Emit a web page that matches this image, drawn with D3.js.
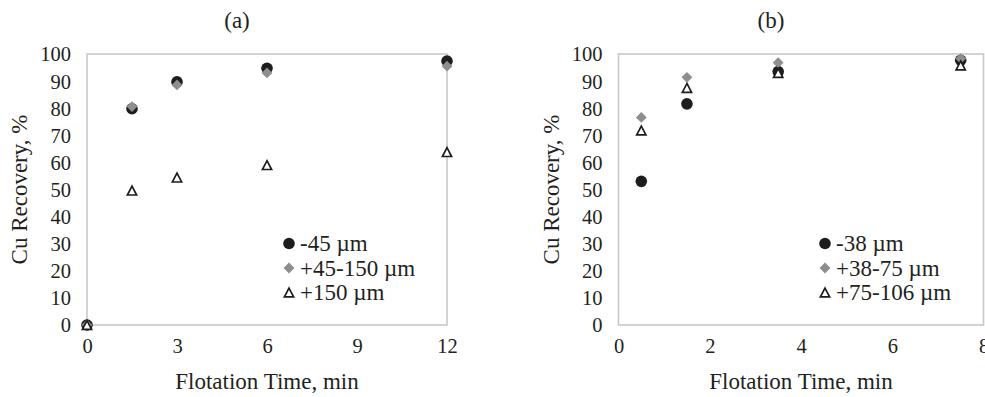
<!DOCTYPE html>
<html>
<head>
<meta charset="utf-8">
<script src="https://cdn.jsdelivr.net/npm/d3@7"></script>
<style>
  body { margin: 0; background: #fff; }
  svg { display: block; }
  svg text { font-family: "Liberation Serif", Tinos, "Times New Roman", Times, "DejaVu Serif", serif !important; fill: #231f20; }
</style>
</head>
<body>
<svg id="chart" width="985" height="397"></svg>
<script>
// Panel (a): flotation time (min) and Cu recovery (%) per size class
const timesA = [0, 1.5, 3, 6, 12];
const fineA = [0, 79.8, 89.7, 94.7, 97.4];
const midA = [0, 80.6, 88.6, 93.0, 95.5];
const coarseA = [0, 49.6, 54.4, 59.0, 63.8];
const namesA = ["-45 µm", "+45-150 µm", "+150 µm"];
const xTicksA = [0, 3, 6, 9, 12];

// Panel (b)
const timesB = [0.5, 1.5, 3.5, 7.5];
const fineB = [53.0, 81.6, 93.5, 97.7];
const midB = [76.6, 91.4, 96.8, 98.3];
const coarseB = [71.8, 87.5, 93.0, 95.8];
const namesB = ["-38 µm", "+38-75 µm", "+75-106 µm"];
const xTicksB = [0, 2, 4, 6, 8];

const yTicks = [0, 10, 20, 30, 40, 50, 60, 70, 80, 90, 100];
const titles = ["(a)", "(b)"];
const xTitle = "Flotation Time, min";
const yTitle = "Cu Recovery, %";

const serif = '"Liberation Serif", Tinos, "Times New Roman", Times, "DejaVu Serif", serif';
const svg = d3.select("#chart").attr("font-family", serif);

const panels = [
  { title: titles[0], x0: 87, x1: 447, xMax: 12, xTicks: xTicksA, times: timesA,
    series: [fineA, midA, coarseA], names: namesA, legendX: 289, yTitleX: 27 },
  { title: titles[1], x0: 618.5, x1: 983.5, xMax: 8, xTicks: xTicksB, times: timesB,
    series: [fineB, midB, coarseB], names: namesB, legendX: 825, yTitleX: 559 }
];

const plotTop = 54, plotBottom = 325;

// marker drawers: filled circle, grey diamond, open triangle
function drawMarker(g, kind, cx, cy) {
  if (kind === 0) {
    g.append("circle").attr("cx", cx).attr("cy", cy).attr("r", 5.8).attr("fill", "#1e1c1d");
  } else if (kind === 1) {
    const s = 5.4;
    g.append("path")
      .attr("d", `M${cx},${cy - s}L${cx + s},${cy}L${cx},${cy + s}L${cx - s},${cy}Z`)
      .attr("fill", "#8e8e8e");
  } else {
    const w = 4.6, h = 4.4;
    g.append("path")
      .attr("d", `M${cx},${cy - h}L${cx + w},${cy + h}L${cx - w},${cy + h}Z`)
      .attr("fill", "#fff").attr("stroke", "#1e1c1d").attr("stroke-width", 1.7)
      .attr("stroke-linejoin", "miter");
  }
}

panels.forEach(p => {
  const x = d3.scaleLinear().domain([0, p.xMax]).range([p.x0, p.x1]);
  const y = d3.scaleLinear().domain([0, 100]).range([plotBottom, plotTop]);
  const g = svg.append("g");

  // plot frame
  g.append("rect")
    .attr("x", p.x0).attr("y", plotTop)
    .attr("width", p.x1 - p.x0).attr("height", plotBottom - plotTop)
    .attr("fill", "none").attr("stroke", "#c9c9c9").attr("stroke-width", 1.6);

  // axes (labels only)
  const yAxis = g.append("g").attr("transform", `translate(${p.x0 - 16},0)`)
    .call(d3.axisLeft(y).tickValues(yTicks).tickSize(0).tickPadding(0))
    .attr("font-family", serif);
  yAxis.select(".domain").remove();
  yAxis.selectAll("text").attr("font-size", 20.5).attr("fill", "#231f20").attr("dy", "0.34em");

  const xAxis = g.append("g").attr("transform", `translate(0,${plotBottom})`)
    .call(d3.axisBottom(x).tickValues(p.xTicks).tickSize(0).tickPadding(0))
    .attr("font-family", serif);
  xAxis.select(".domain").remove();
  xAxis.selectAll("text").attr("font-size", 20.5).attr("fill", "#231f20")
    .attr("dy", null).attr("y", 28);

  // titles
  g.append("text").attr("x", (p.x0 + p.x1) / 2 - 30).attr("y", 28)
    .attr("text-anchor", "middle").attr("font-size", 23).text(p.title);
  g.append("text").attr("x", (p.x0 + p.x1) / 2).attr("y", 389)
    .attr("text-anchor", "middle").attr("font-size", 23).text(xTitle);
  g.append("text")
    .attr("transform", `translate(${p.yTitleX},${(plotTop + plotBottom) / 2}) rotate(-90)`)
    .attr("text-anchor", "middle").attr("font-size", 23).text(yTitle);

  // data points
  p.series.forEach((vals, k) => {
    vals.forEach((v, i) => drawMarker(g, k, x(p.times[i]), y(v)));
  });

  // legend
  p.names.forEach((name, k) => {
    const ly = 243.5 + k * 24.5;
    drawMarker(g, k, p.legendX, ly);
    g.append("text").attr("x", p.legendX + 11).attr("y", ly + 7.5)
      .attr("font-size", 23).text(name);
  });
});
</script>
</body>
</html>
